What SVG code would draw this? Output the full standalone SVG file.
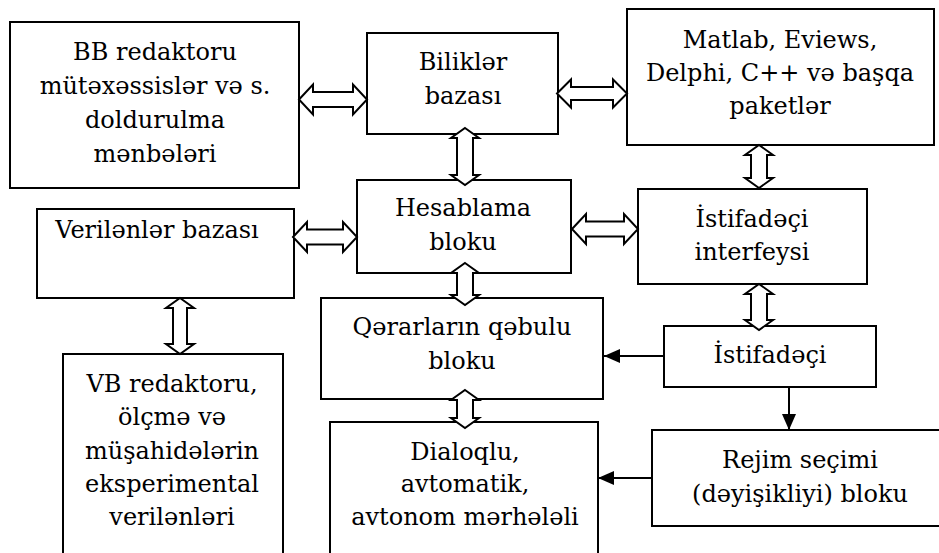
<svg xmlns="http://www.w3.org/2000/svg" width="939" height="553" viewBox="0 0 939 553">
<style>
.box{fill:#fff;stroke:#000;stroke-width:2}
.dbl{fill:#fff;stroke:#000;stroke-width:2;stroke-linejoin:miter}
.ln{fill:none;stroke:#000;stroke-width:2}
.t{font-family:'DejaVu Serif',serif;font-size:24px;fill:#000;text-anchor:middle}
</style>
<defs>
<marker id="ah" markerUnits="userSpaceOnUse" markerWidth="16" markerHeight="14" viewBox="0 0 16 14" refX="16" refY="7" orient="auto">
<path d="M0,0 L16,7 L0,14 z" fill="#000"/>
</marker>
</defs>
<rect width="939" height="553" fill="#fff"/>
<g id="n-bb"><rect class="box" x="10" y="22" width="289" height="166"/>
<g class="t"><text x="155" y="60">BB redaktoru</text><text x="155" y="94">mütəxəssislər və s.</text><text x="155" y="128">doldurulma</text><text x="155" y="162">mənbələri</text></g></g>
<g id="n-bilik"><rect class="box" x="367" y="33" width="191" height="101"/>
<g class="t"><text x="463" y="70">Biliklər</text><text x="463" y="104">bazası</text></g></g>
<g id="n-matlab"><rect class="box" x="627" y="9" width="307" height="136"/>
<g class="t"><text x="780" y="48">Matlab, Eviews,</text><text x="780" y="81">Delphi, C++ və başqa</text><text x="780" y="114">paketlər</text></g></g>
<g id="n-hesab"><rect class="box" x="357" y="180" width="214" height="93"/>
<g class="t"><text x="463" y="216">Hesablama</text><text x="463" y="250">bloku</text></g></g>
<g id="n-veril"><rect class="box" x="37" y="209" width="257" height="89"/>
<g class="t"><text x="157" y="238">Verilənlər bazası</text></g></g>
<g id="n-interf"><rect class="box" x="638" y="189" width="229" height="95"/>
<g class="t"><text x="752" y="227">İstifadəçi</text><text x="752" y="260">interfeysi</text></g></g>
<g id="n-qerar"><rect class="box" x="321" y="298" width="282" height="101"/>
<g class="t"><text x="462" y="335">Qərarların qəbulu</text><text x="462" y="369">bloku</text></g></g>
<g id="n-istif"><rect class="box" x="664" y="326" width="212" height="61"/>
<g class="t"><text x="770" y="363">İstifadəçi</text></g></g>
<g id="n-vb"><rect class="box" x="63" y="354" width="220" height="215"/>
<g class="t"><text x="172" y="392">VB redaktoru,</text><text x="172" y="425">ölçmə və</text><text x="172" y="459">müşahidələrin</text><text x="172" y="492">eksperimental</text><text x="172" y="525">verilənləri</text></g></g>
<g id="n-dialoq"><rect class="box" x="330" y="422" width="268" height="150"/>
<g class="t"><text x="465" y="460">Dialoqlu,</text><text x="465" y="492">avtomatik,</text><text x="465" y="525">avtonom mərhələli</text></g></g>
<g id="n-rejim"><rect class="box" x="652" y="430" width="300" height="96"/>
<g class="t"><text x="800" y="468">Rejim seçimi</text><text x="800" y="502">(dəyişikliyi) bloku</text></g></g>
<g id="connectors">
<polygon class="dbl" points="299,99.5 313,84.5 313,92 353,92 353,84.5 367,99.5 353,114.5 353,107 313,107 313,114.5"/>
<polygon class="dbl" points="557,93.5 571,79.5 571,87 613,87 613,79.5 627,93.5 613,107.5 613,100 571,100 571,107.5"/>
<polygon class="dbl" points="293,237 307,222 307,229.5 343,229.5 343,222 357,237 343,252 343,244.5 307,244.5 307,252"/>
<polygon class="dbl" points="572,229 586,214 586,221.5 624,221.5 624,214 638,229 624,244 624,236.5 586,236.5 586,244"/>
<polygon class="dbl" points="465,128 479,138 473,138 473,175 479,175 465,185 451,175 457,175 457,138 451,138"/>
<polygon class="dbl" points="759,145 773,155 767,155 767,178 773,178 759,188 745,178 751,178 751,155 745,155"/>
<polygon class="dbl" points="180,298 194,308 187,308 187,344 194,344 180,354 166,344 173,344 173,308 166,308"/>
<polygon class="dbl" points="465,263 479,273 473,273 473,295 479,295 465,305 451,295 457,295 457,273 451,273"/>
<polygon class="dbl" points="759,284 773,294 767,294 767,320 773,320 759,330 745,320 751,320 751,294 745,294"/>
<polygon class="dbl" points="465,390 479,400 473,400 473,418 479,418 465,428 451,418 457,418 457,400 451,400"/>
<line class="ln" x1="664" y1="356" x2="604" y2="356" marker-end="url(#ah)"/>
<line class="ln" x1="789" y1="387" x2="789" y2="430" marker-end="url(#ah)"/>
<line class="ln" x1="652" y1="478" x2="598" y2="478" marker-end="url(#ah)"/>
</g>
</svg>
